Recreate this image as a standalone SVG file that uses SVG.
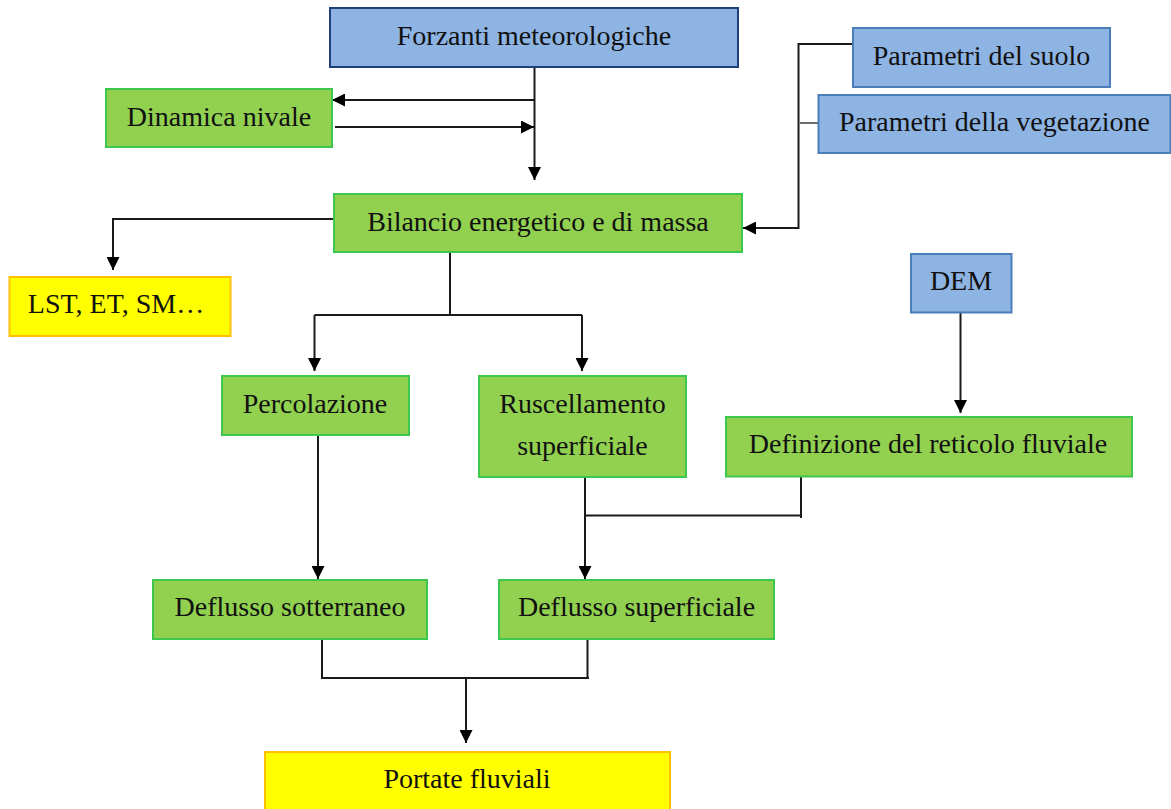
<svg xmlns="http://www.w3.org/2000/svg" width="1171" height="809" viewBox="0 0 1171 809">
<defs>
<style>
.blue{fill:#8EB4E3;stroke:#4A7EBB;stroke-width:2}
.blued{fill:#8EB4E3;stroke:#1F3F7A;stroke-width:2}
.green{fill:#92D050;stroke:#3CC84C;stroke-width:2}
.yellow{fill:#FFFF00;stroke:#FFC000;stroke-width:2}
text{font-family:"Liberation Serif","Times New Roman",serif;font-size:28px;fill:#111;text-anchor:middle}
.c{fill:none;stroke:#1a1a1a;stroke-width:2}
.g{fill:none;stroke:#6e6e6e;stroke-width:2}
</style>
<marker id="ah" viewBox="0 0 10 10" refX="10" refY="5" markerWidth="13" markerHeight="13" markerUnits="userSpaceOnUse" orient="auto">
<path d="M0,0 L10,5 L0,10 z" fill="#000"/>
</marker>
</defs>
<rect width="1171" height="809" fill="#fff"/>
<g id="connectors">
<path class="c" d="M534.5,67 V180" marker-end="url(#ah)"/>
<path class="c" d="M534.5,100 H332" marker-end="url(#ah)"/>
<path class="c" d="M335,127 H534" marker-end="url(#ah)"/>
<path class="c" d="M334,219 H113 V270" marker-end="url(#ah)"/>
<path class="c" d="M853,44 H798.5 V228 H743" marker-end="url(#ah)"/>
<path class="g" d="M818,123 H798.5"/>
<path class="c" d="M450,253 V315"/>
<path class="c" d="M314.5,315 H582"/>
<path class="c" d="M314.5,315 V371" marker-end="url(#ah)"/>
<path class="c" d="M582,315 V371" marker-end="url(#ah)"/>
<path class="c" d="M960.5,313 V413" marker-end="url(#ah)"/>
<path class="c" d="M318,436 V579" marker-end="url(#ah)"/>
<path class="c" d="M585,477 V579" marker-end="url(#ah)"/>
<path class="c" d="M801,477 V518"/>
<path class="c" d="M585,515.5 H802"/>
<path class="c" d="M322,639 V679"/>
<path class="c" d="M587.5,640 V679"/>
<path class="c" d="M321,678 H589"/>
<path class="c" d="M466,678 V743" marker-end="url(#ah)"/>
</g>
<g id="forzanti"><rect class="blued" x="330" y="8" width="408" height="59"/><text x="534" y="45">Forzanti meteorologiche</text></g>
<g id="suolo"><rect class="blue" x="853" y="28" width="257" height="59"/><text x="981.5" y="65">Parametri del suolo</text></g>
<g id="vegetazione"><rect class="blue" x="818.5" y="95" width="352" height="58"/><text x="994.5" y="131">Parametri della vegetazione</text></g>
<g id="dinamica"><rect class="green" x="106" y="89" width="226" height="58"/><text x="219" y="126">Dinamica nivale</text></g>
<g id="bilancio"><rect class="green" x="334" y="194" width="408" height="58"/><text x="538" y="231">Bilancio energetico e di massa</text></g>
<g id="lst"><rect class="yellow" x="9.5" y="277" width="221" height="59"/><text x="116" y="313">LST, ET, SM…</text></g>
<g id="dem"><rect class="blue" x="911" y="254" width="100.5" height="58.5"/><text x="961" y="290">DEM</text></g>
<g id="percolazione"><rect class="green" x="222" y="376" width="187" height="59"/><text x="315" y="413">Percolazione</text></g>
<g id="ruscellamento"><rect class="green" x="479" y="376" width="207" height="101"/><text x="582.5" y="413">Ruscellamento</text><text x="582.5" y="455">superficiale</text></g>
<g id="reticolo"><rect class="green" x="726" y="417" width="406" height="59.5"/><text x="928" y="453">Definizione del reticolo fluviale</text></g>
<g id="sotterraneo"><rect class="green" x="153" y="580" width="274" height="59"/><text x="290" y="616">Deflusso sotterraneo</text></g>
<g id="superficiale"><rect class="green" x="499" y="580" width="275" height="59"/><text x="636.5" y="616">Deflusso superficiale</text></g>
<g id="portate"><rect class="yellow" x="265" y="752" width="405" height="62"/><text x="467" y="788">Portate fluviali</text></g>
</svg>
